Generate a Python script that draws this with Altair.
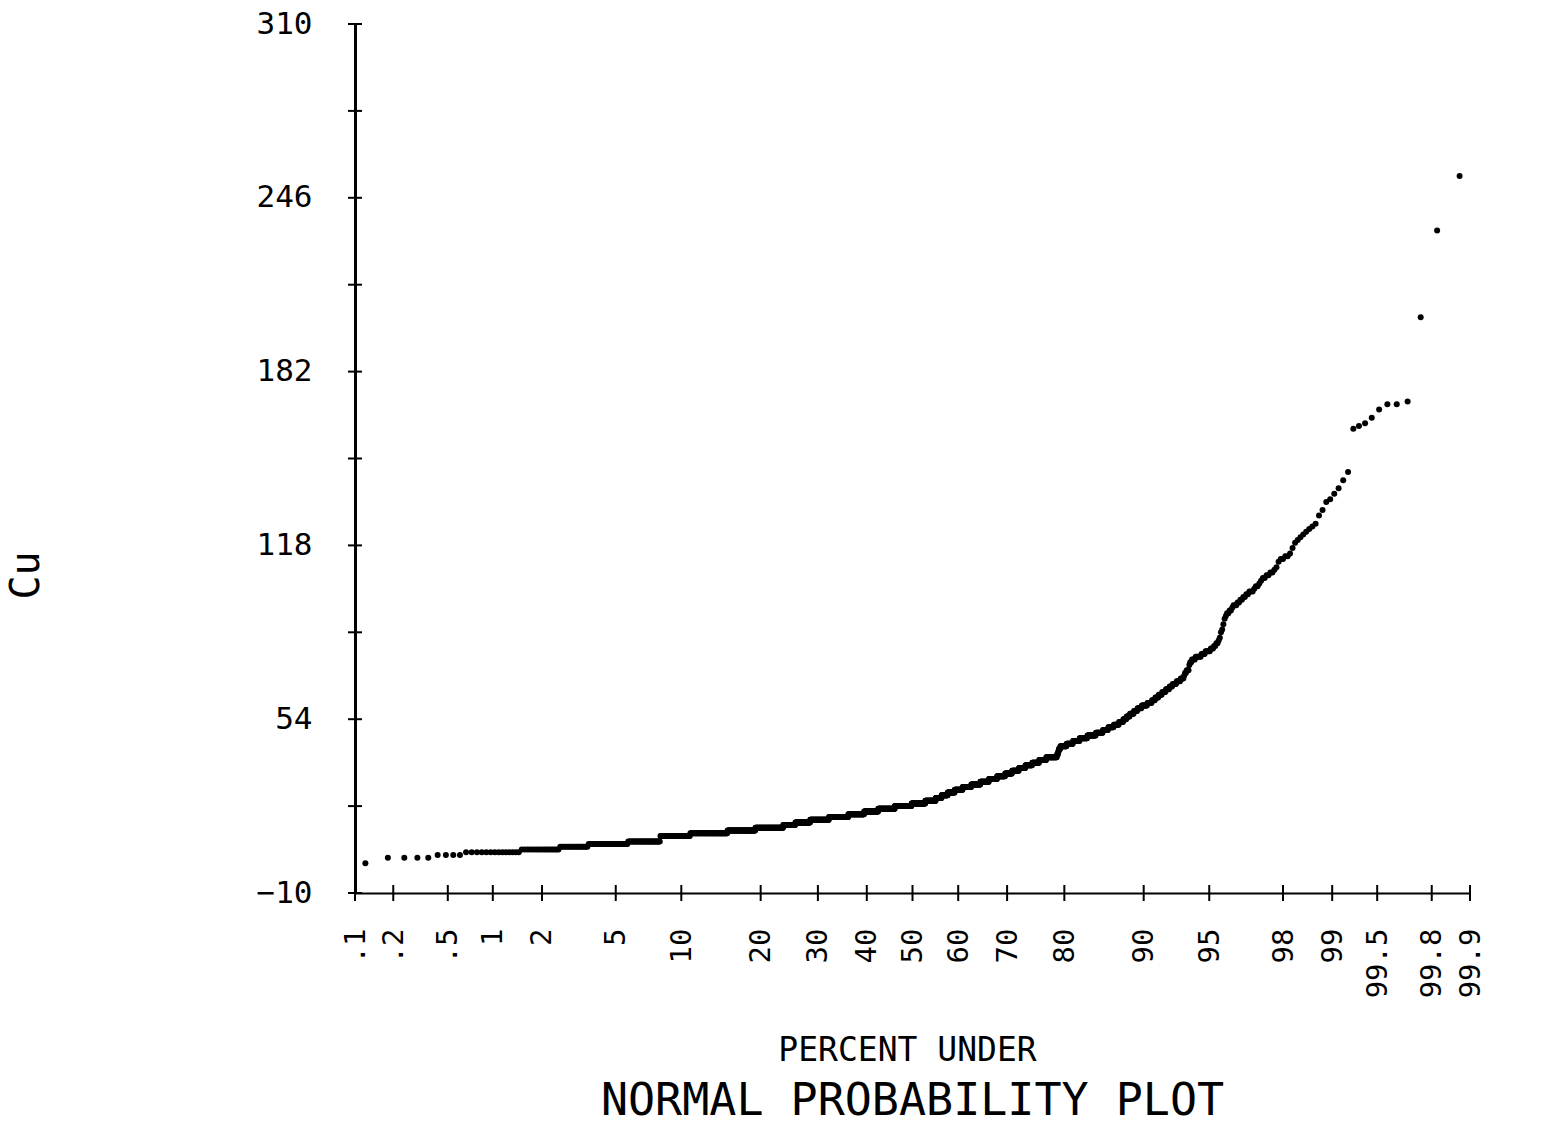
import altair as alt
import pandas as pd
from statistics import NormalDist

# ---- data (Cu sample as a frequency table) ----
# lower part of the sample: distinct Cu values and how many samples share each value
cu_values_low = [1, 3, 4, 5, 6, 7, 8, 9, 11, 12, 13, 14, 15, 16, 17, 18, 19, 20,
                 21, 22, 23, 24, 25, 26, 27, 28, 29, 30, 31, 32, 33, 34, 35, 36,
                 37, 38, 39, 40, 41, 42, 43, 44, 45, 46, 47, 48, 49, 50, 51, 52,
                 53, 54, 55, 56, 57, 58, 59, 60, 61, 62, 63, 64, 65, 66, 67, 68, 69]
cu_counts_low = [1, 4, 4, 14, 17, 18, 35, 39, 46, 72, 65, 74, 35, 45, 60, 65, 55, 50,
                 60, 61, 50, 38, 21, 22, 25, 28, 30, 31, 29, 27, 26, 22, 21, 20,
                 20, 20, 20, 29, 3, 2, 4, 16, 16, 16, 18, 19, 15, 11, 11, 10,
                 8, 6, 6, 7, 6, 7, 9, 7, 5, 5, 5, 5, 5, 4, 5, 5, 4]
# upper tail of the sample
cu_values_high = [70, 71, 72, 74, 75, 76, 77, 78, 79, 80, 81, 82, 83, 84, 86, 87, 89,
                  91, 92, 93, 94, 95, 96, 97, 98, 99, 100, 101, 102, 103, 104, 105,
                  106, 107, 108, 109, 110, 112, 113, 114, 115, 117, 119, 120, 121,
                  122, 123, 124, 125, 126, 129, 131, 134, 135, 137, 139, 142, 145,
                  161, 162, 163, 165, 168, 170, 171, 202, 234, 254]
cu_counts_high = [1, 2, 3, 1, 2, 4, 6, 4, 5, 3, 2, 2, 1, 1, 1, 1, 1,
                  1, 1, 2, 2, 1, 3, 2, 2, 2, 2, 3, 1, 2, 1, 1,
                  2, 2, 2, 1, 1, 1, 2, 2, 1, 1, 1, 1, 1,
                  1, 1, 1, 1, 1, 1, 1, 1, 1, 1, 1, 1, 1,
                  1, 1, 1, 1, 1, 2, 1, 1, 1, 1]
# samples whose plotting position falls outside the .1 .. 99.9 window (not drawn)
points_below_window = 1
points_above_window = 1

percent_ticks = [0.1, 0.2, 0.5, 1, 2, 5, 10, 20, 30, 40, 50, 60, 70, 80, 90,
                 95, 98, 99, 99.5, 99.8, 99.9]
y_label_values = [-10, 54, 118, 182, 246, 310]
y_tick_values = [-10, 22, 54, 86, 118, 150, 182, 214, 246, 278, 310]

# ---- build the probability-plot table ----
cu_values = cu_values_low + cu_values_high
cu_counts = cu_counts_low + cu_counts_high
n_total = sum(cu_counts) + points_below_window + points_above_window
nd = NormalDist()
rows = []
rank = points_below_window
for v, c in zip(cu_values, cu_counts):
    for _ in range(c):
        rank += 1
        rows.append({"z": nd.inv_cdf(rank / (n_total + 1)), "cu": v})
pts = pd.DataFrame(rows)

z_lo = nd.inv_cdf(percent_ticks[0] / 100)
z_hi = nd.inv_cdf(percent_ticks[-1] / 100)
tick_z = [nd.inv_cdf(p / 100) for p in percent_ticks]

xticks_df = pd.DataFrame({"z": tick_z, "cu": [y_tick_values[0]] * len(tick_z)})
yticks_df = pd.DataFrame({"z": [z_lo] * len(y_tick_values), "cu": y_tick_values})

FONT = "DejaVu Sans Mono"
x_scale = alt.Scale(domain=[z_lo, z_hi], nice=False, zero=False)
y_scale = alt.Scale(domain=[y_tick_values[0], y_tick_values[-1]], nice=False, zero=False)

x_axis = alt.Axis(
    values=tick_z,
    labelExpr="replace(format(cumulativeNormal(datum.value) * 100, '.3~r'), '0.', '.')",
    labelAngle=270, labelAlign="right", labelBaseline="middle", labelPadding=35,
    labelFont=FONT, labelFontSize=29, labelColor="black",
    labelOverlap=False, labelFlush=False, labelBound=False,
    ticks=False, grid=False, domainColor="black", domainWidth=2,
    title="PERCENT UNDER", titleFont=FONT, titleFontSize=33, titleFontWeight="normal",
    titleColor="black", titleX=552, titleY=157, titleAlign="center",
    titleBaseline="middle", titleAngle=0,
)
y_axis = alt.Axis(
    values=y_label_values, format="d",
    labelFont=FONT, labelFontSize=31, labelColor="black", labelPadding=43,
    labelOverlap=False, labelFlush=False, labelBound=False,
    ticks=False, grid=False, domainColor="black", domainWidth=3,
    title="Cu", titleFont=FONT, titleFontSize=40, titleFontWeight="normal",
    titleColor="black", titleAngle=270, titleX=-329, titleY=551,
    titleAlign="center", titleBaseline="middle",
)

points = alt.Chart(pts).mark_circle(size=36, color="black", opacity=1, clip=True).encode(
    x=alt.X("z:Q", scale=x_scale, axis=x_axis),
    y=alt.Y("cu:Q", scale=y_scale, axis=y_axis),
)
xticks = alt.Chart(xticks_df).mark_tick(orient="vertical", size=16, thickness=2,
                                        color="black", opacity=1).encode(
    x=alt.X("z:Q", scale=x_scale),
    y=alt.Y("cu:Q", scale=y_scale),
)
yticks = alt.Chart(yticks_df).mark_tick(orient="horizontal", size=14, thickness=2,
                                        color="black", opacity=1).encode(
    x=alt.X("z:Q", scale=x_scale),
    y=alt.Y("cu:Q", scale=y_scale),
)

chart = alt.layer(points, xticks, yticks).properties(
    width=1115, height=869,
    autosize=alt.AutoSizeParams(type="none"),
    padding={"left": 355, "top": 24, "right": 76, "bottom": 236},
    title=alt.TitleParams("NORMAL PROBABILITY PLOT", orient="bottom", anchor="middle",
                          font=FONT, fontSize=45, fontWeight="normal", color="black",
                          offset=12),
    background="white",
).configure_view(strokeWidth=0)

chart.save("out.html", embed_options={"renderer": "svg", "actions": False})
